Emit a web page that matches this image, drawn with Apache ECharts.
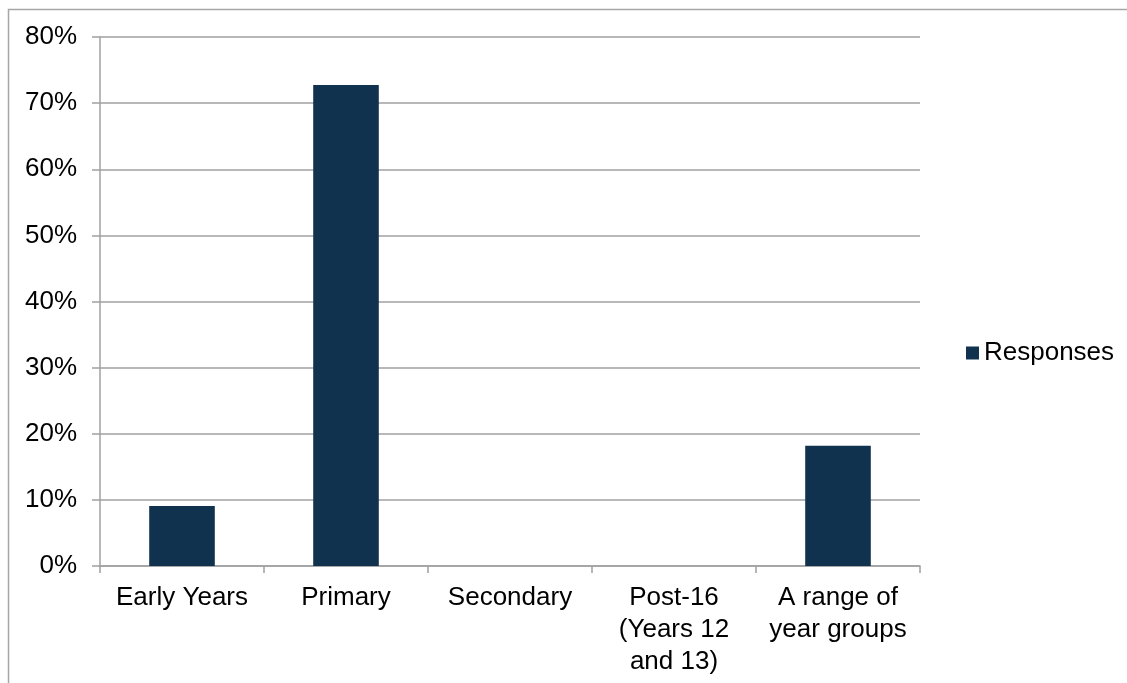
<!DOCTYPE html>
<html><head><meta charset="utf-8">
<script src="https://cdn.jsdelivr.net/npm/echarts@6/dist/echarts.min.js"></script>
<style>html,body{margin:0;padding:0;background:#fff}#c{width:1127px;height:683px}</style>
</head><body><div id="c"></div>
<script>
const categories = ['Early Years', 'Primary', 'Secondary', 'Post-16\n(Years 12\nand 13)', 'A range of\nyear groups'];
const responses = [9.09, 72.73, 0, 0, 18.18];
const yTicks = [0, 10, 20, 30, 40, 50, 60, 70, 80];
const seriesName = 'Responses';

const FONT = 'Liberation Sans, Arial, sans-serif';
const chart = echarts.init(document.getElementById('c'));
chart.setOption({
  animation: false,
  textStyle: { fontFamily: FONT },
  graphic: [{
    type: 'rect', left: 6, top: 7, shape: { width: 1300, height: 900 },
    style: { fill: 'none', stroke: '#a6a6a6', lineWidth: 1.5 }, silent: true
  }],
  grid: { left: 100, right: 207, top: 37, bottom: 117, containLabel: false },
  legend: {
    data: [seriesName], left: 961, top: 335, icon: 'rect', itemWidth: 13, itemHeight: 13, itemGap: 6,
    textStyle: { fontSize: 26, color: '#000', fontFamily: FONT }
  },
  xAxis: {
    type: 'category', data: categories,
    axisLine: { lineStyle: { color: '#a0a0a0', width: 1.5 } },
    axisTick: { show: true, length: 7, alignWithLabel: false, lineStyle: { color: '#a0a0a0', width: 1.5 } },
    axisLabel: { fontSize: 26, color: '#000', lineHeight: 32, margin: 16, interval: 0, fontFamily: FONT }
  },
  yAxis: {
    type: 'value', min: yTicks[0], max: yTicks[yTicks.length - 1], interval: 10,
    axisLine: { show: true, lineStyle: { color: '#a0a0a0', width: 1.5 } },
    axisTick: { show: true, length: 8, lineStyle: { color: '#a0a0a0', width: 1.5 } },
    splitLine: { lineStyle: { color: '#a0a0a0', width: 1.5 } },
    axisLabel: { fontSize: 26, color: '#000', margin: 23, fontFamily: FONT, formatter: v => v + '%' }
  },
  series: [{
    name: seriesName, type: 'bar', data: responses, barWidth: '40%',
    itemStyle: { color: '#11324f' }
  }]
});
</script></body></html>
